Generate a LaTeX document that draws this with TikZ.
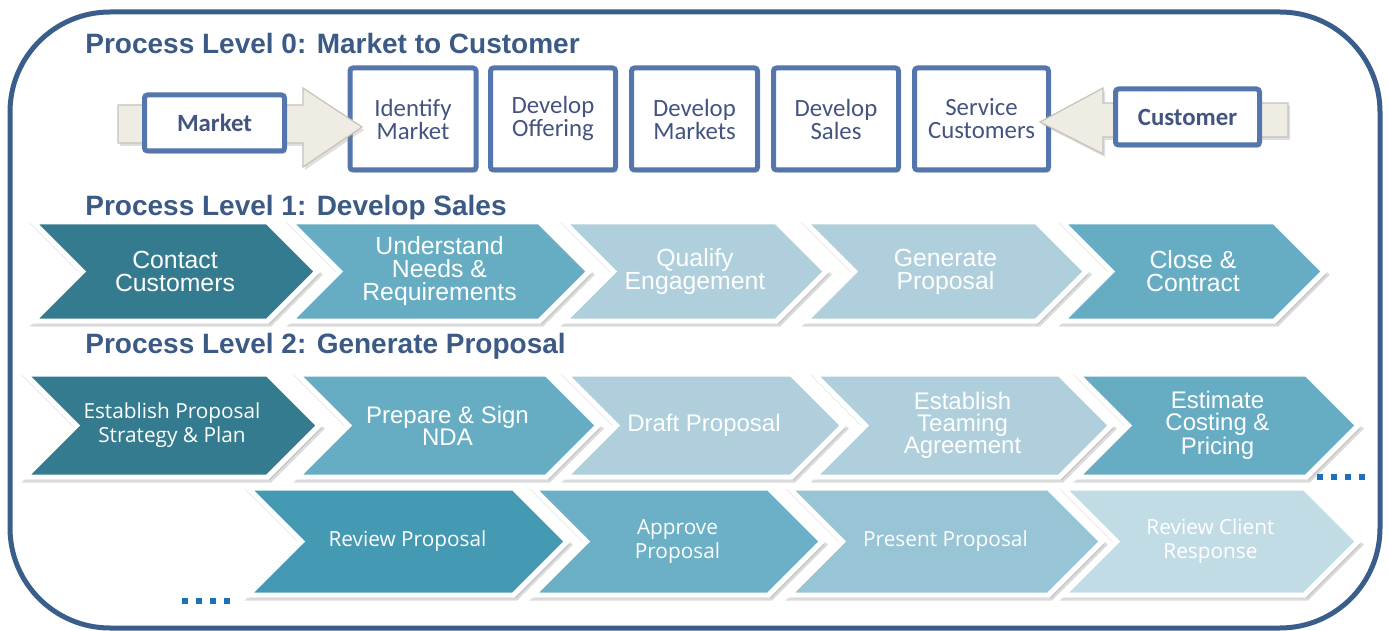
\documentclass[tikz,border=0pt]{standalone}
\usepackage{fontspec}
\setmainfont{Liberation Sans}
\newfontfamily\carlito{Carlito}
\newfontfamily\opensans{Open Sans}
\usetikzlibrary{shadows}

\definecolor{frameblue}{RGB}{58,94,140}
\definecolor{titleblue}{RGB}{60,90,134}
\definecolor{boxblue}{RGB}{84,118,172}
\definecolor{boxtext}{RGB}{68,84,128}
\definecolor{arrowbeige}{RGB}{238,236,227}
\definecolor{arrowedge}{RGB}{196,194,186}
\definecolor{tealdark}{RGB}{53,123,143}
\definecolor{tealmid}{RGB}{102,173,196}
\definecolor{teallight}{RGB}{174,207,219}
\definecolor{revone}{RGB}{68,153,179}
\definecolor{revtwo}{RGB}{108,176,199}
\definecolor{revthree}{RGB}{152,197,214}
\definecolor{revfour}{RGB}{194,220,229}
\definecolor{dotblue}{RGB}{30,110,190}

\tikzset{
  outerframe/.style={draw=frameblue, line width=2.5pt, rounded corners=50pt},
  lvltitle/.style={anchor=base west, inner sep=0pt, text=titleblue,
    font=\bfseries\fontsize{14}{16}\selectfont},
  lzstep/.style={draw=boxblue, line width=2.5pt, fill=white, align=center,
    rounded corners=1.5pt, text=boxtext,
    font=\carlito\fontsize{12.4}{11.5}\selectfont,
    minimum width=63pt, minimum height=51pt, inner sep=1pt,
    drop shadow={opacity=0.3, shadow xshift=1pt, shadow yshift=-1.5pt}},
  lzend/.style={lzstep, minimum height=28pt,
    font=\carlito\bfseries\fontsize{12.4}{11.5}\selectfont},
  blockarrow/.style={fill=arrowbeige, draw=arrowedge, line width=0.6pt,
    drop shadow={opacity=0.25, shadow xshift=1pt, shadow yshift=-1.5pt}},
  chevshadow/.style={fill=black!40, draw=black!40, line width=2.5pt, opacity=0.35,
    line join=miter, transform canvas={shift={(1.2pt,-1.6pt)}}},
  chevbody/.style={draw=white, line width=2.5pt, line join=miter},
  arialtext/.style={text=white, align=center, inner sep=0pt,
    font=\fontsize{12.4}{11.5}\selectfont},
  arialtight/.style={arialtext, font=\fontsize{12}{11}\selectfont},
  opentext/.style={text=white, align=center, inner sep=0pt,
    font=\opensans\fontsize{10.4}{12}\selectfont},
  contdots/.style={draw=dotblue, line width=3pt, dash pattern=on 3pt off 4pt}
}

% chevron: [text style] name, left, tip, top, bottom, fill, label
\newcommand{\procchevron}[8][arialtext]{%
  \path[chevshadow] (#3,#5) -- ({#4-(#6-#5)/2},#5) -- (#4,{(#5+#6)/2})
    -- ({#4-(#6-#5)/2},#6) -- (#3,#6) -- ({#3+(#6-#5)/2},{(#5+#6)/2}) -- cycle;
  \path[chevbody, fill=#7] (#3,#5) -- ({#4-(#6-#5)/2},#5) -- (#4,{(#5+#6)/2})
    -- ({#4-(#6-#5)/2},#6) -- (#3,#6) -- ({#3+(#6-#5)/2},{(#5+#6)/2}) -- cycle;
  \node[#1] (#2) at ({(#3+#4)/2},{(#5+#6)/2}) {#8};
}

\begin{document}
\begin{tikzpicture}[x=0.5pt, y=-0.5pt]
  \useasboundingbox (0,0) rectangle (1388,631);
  \draw[outerframe] (10,12) rectangle (1380,628);

  % level 0
  \node[lvltitle] (lzTitle) at (85,54) {Process Level 0: Market to Customer};
  \node[lzstep] (identify) at (413,119) {Identify\\Market};
  \node[lzstep, minimum width=62.5pt] (offering) at (553,119) {Develop\\Offering};
  \node[lzstep] (markets) at (694.5,119) {Develop\\Markets};
  \node[lzstep, minimum width=62.5pt] (sales) at (836,119) {Develop\\Sales};
  \node[lzstep, minimum width=67pt] (service) at (981.5,119) {Service\\Customers};

  \coordinate (mktTail) at (118,124);
  \path[blockarrow] (mktTail) ++(0,-19) -- ++(185,0) -- ++(0,-17) -- ++(59,39)
    -- ++(-59,40) -- ++(0,-24) -- ++(-185,0) -- cycle;
  \node[lzend, minimum width=70pt] (market) at (214.5,123) {Market};

  \coordinate (custTail) at (1288,120);
  \path[blockarrow] (custTail) ++(0,-17) -- ++(-185,0) -- ++(0,-15) -- ++(-63,34)
    -- ++(63,32) -- ++(0,-17) -- ++(185,0) -- cycle;
  \node[lzend, minimum width=72pt] (customer) at (1187.5,117) {Customer};

  % level 1
  \node[lvltitle] (loTitle) at (85,215) {Process Level 1: Develop Sales};
  \procchevron{contact}{33}{317}{222}{321}{tealdark}{Contact\\Customers}
  \procchevron{needs}{290}{589}{222}{321}{tealmid}{Understand\\Needs \&\\Requirements}
  \procchevron{qualify}{564}{826}{222}{321}{teallight}{Qualify\\Engagement}
  \procchevron{generate}{805}{1086}{222}{321}{teallight}{Generate\\Proposal}
  \procchevron{close}{1062}{1324}{222}{321}{tealmid}{Close \&\\Contract}

  % level 2
  \node[lvltitle] (ltTitle) at (85,353) {Process Level 2: Generate Proposal};
  \procchevron[opentext]{strategy}{25}{319}{374}{477}{tealdark}{Establish Proposal\\Strategy \& Plan}
  \procchevron[arialtight]{nda}{297}{598}{374}{477}{tealmid}{Prepare \& Sign\\NDA}
  \procchevron[arialtight]{draft}{565}{843}{374}{477}{teallight}{Draft Proposal}
  \procchevron[arialtight]{teaming}{814}{1111}{374}{477}{teallight}{Establish\\Teaming\\Agreement}
  \procchevron[arialtight]{costing}{1077}{1358}{374}{477}{tealmid}{Estimate\\Costing \&\\Pricing}

  \procchevron[opentext]{review}{248}{567}{488}{595}{revone}{Review Proposal}
  \procchevron[opentext]{approve}{533}{822}{488}{595}{revtwo}{Approve\\Proposal}
  \procchevron[opentext]{present}{789}{1102}{488}{595}{revthree}{Present Proposal}
  \procchevron[opentext]{response}{1063}{1358}{488}{595}{revfour}{Review Client\\Response}

  \coordinate (moreA) at (1317,477);
  \coordinate (moreB) at (1365,477);
  \draw[contdots] (moreA) -- (moreB);
  \coordinate (moreC) at (182,601);
  \coordinate (moreD) at (230,601);
  \draw[contdots] (moreC) -- (moreD);
\end{tikzpicture}
\end{document}
